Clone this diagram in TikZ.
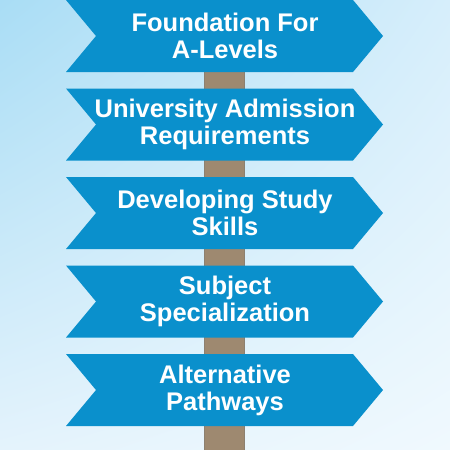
\documentclass[tikz,border=0pt]{standalone}
\usepackage{fontspec}
\setmainfont{Liberation Sans}
\usetikzlibrary{shadings}
\definecolor{signblue}{HTML}{0A90CC}
\definecolor{polebrown}{HTML}{9E8970}
\definecolor{poleedge}{HTML}{8C8070}
\definecolor{bgTL}{HTML}{A9DDF5}
\definecolor{bgTR}{HTML}{D6EEFB}
\definecolor{bgBL}{HTML}{E4F3FC}
\definecolor{bgBR}{HTML}{F0F9FE}
\begin{document}
\begin{tikzpicture}[x=1pt,y=-1pt,
  signtext/.style={text=white,font=\fontsize{25.5}{27}\selectfont\bfseries,align=center}]
\useasboundingbox (0,0) rectangle (450,450);
\shade[upper left=bgTL, upper right=bgTR, lower left=bgBL, lower right=bgBR] (0,0) rectangle (450,450);
% pole
\fill[polebrown, draw=poleedge, line width=0.6pt] (204.5,60) rectangle (244.5,452);
% signs
\foreach \t/\n in {0/a,88.5/b,177/c,265.5/d,354/e}{
  \fill[signblue] (66,\t) -- (353,\t) -- (383,\t+36) -- (353,\t+72) -- (66,\t+72) -- (96,\t+36) -- cycle;
  \coordinate (c\n) at (225,\t+36);
}
\node[signtext] (ta) at (ca) {Foundation For\\A-Levels};
\node[signtext] (tb) at (cb) {University Admission\\Requirements};
\node[signtext] (tc) at (cc) {Developing Study\\Skills};
\node[signtext] (td) at (cd) {Subject\\Specialization};
\node[signtext] (te) at (ce) {Alternative\\Pathways};
\end{tikzpicture}
\end{document}
